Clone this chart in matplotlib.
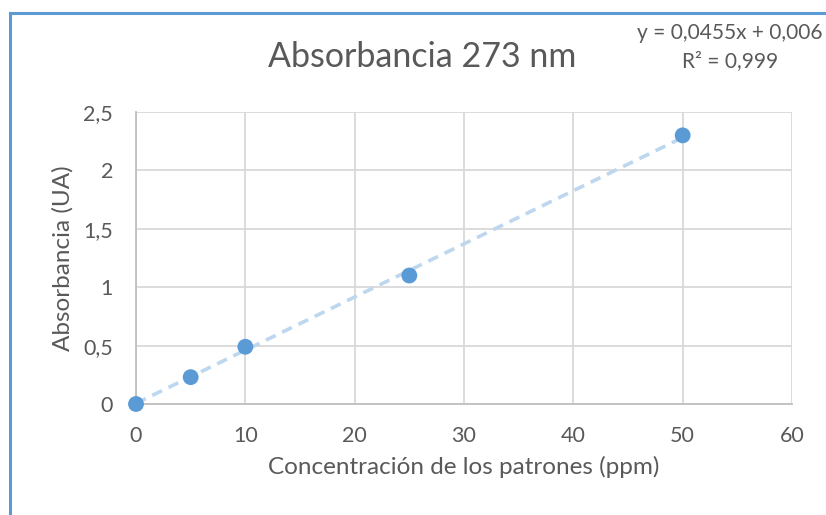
import matplotlib
matplotlib.use("Agg")
import matplotlib.pyplot as plt
import numpy as np

# Calibration standards
conc_ppm = [0, 5, 10, 25, 50]
absorbance = [0.0, 0.23, 0.49, 1.10, 2.30]

# Linear fit reported on the chart
slope = 0.0455
intercept = 0.006
r2_text = "0,999"

x_ticks = [0, 10, 20, 30, 40, 50, 60]
y_ticks = [0, 0.5, 1, 1.5, 2, 2.5]
y_tick_labels = ["0", "0,5", "1", "1,5", "2", "2,5"]

plt.rcParams['font.family'] = ['Lato', 'DejaVu Sans']
text_color = "#595959"
point_color = "#5B9BD5"
trend_color = "#BDD7EE"

fig = plt.figure(figsize=(8.26, 5.15), dpi=100)
W, H = 826, 515
ax = fig.add_axes([136 / W, 1 - 404 / H, (792 - 136) / W, (404 - 112) / H])

ax.set_xlim(0, 60)
ax.set_ylim(0, 2.5)
ax.set_xticks(x_ticks)
ax.set_yticks(y_ticks)
ax.set_yticklabels(y_tick_labels)
ax.grid(True, color="#D9D9D9", linewidth=1.3)
ax.set_axisbelow(True)
for side in ("top", "right"):
    ax.spines[side].set_visible(False)
for side in ("left", "bottom"):
    ax.spines[side].set_color("#BFBFBF")
    ax.spines[side].set_linewidth(1.3)
ax.tick_params(length=0, labelsize=15.5, colors=text_color)
ax.tick_params(axis="x", pad=16)
ax.tick_params(axis="y", pad=16.5)

# Trendline over the data range
xt = np.array([conc_ppm[0], conc_ppm[-1]], dtype=float)
ax.plot(xt, slope * xt + intercept, linestyle=(0, (3, 2)), color=trend_color,
        linewidth=2.6, zorder=2, clip_on=False)
ax.scatter(conc_ppm, absorbance, s=130, color=point_color, zorder=3, clip_on=False,
           edgecolors="none")

ax.set_xlabel("Concentración de los patrones (ppm)", fontsize=17.5, color=text_color, labelpad=7)
ax.set_ylabel("Absorbancia (UA)", fontsize=17.5, color=text_color, labelpad=7)

fig.text(422 / W, 1 - 57 / H, "Absorbancia 273 nm", fontsize=24.5, color=text_color,
         ha="center", va="center")
fig.text(730 / W, 1 - 33 / H, "y = 0,0455x + 0,006", fontsize=15, color=text_color,
         ha="center", va="center")
fig.text(730 / W, 1 - 61 / H, "R² = " + r2_text, fontsize=15, color=text_color,
         ha="center", va="center")

# Chart frame (left and top edges)
fig.add_artist(plt.Line2D([10 / W, 10 / W], [0, 1 - 13 / H], color=point_color, linewidth=2.2))
fig.add_artist(plt.Line2D([10 / W, 1], [1 - 13 / H, 1 - 13 / H], color=point_color, linewidth=2.2))

fig.savefig("out.png", dpi=100)
